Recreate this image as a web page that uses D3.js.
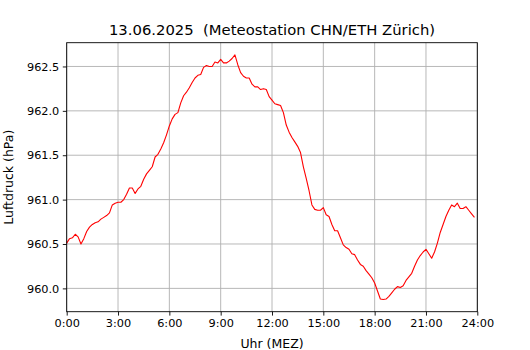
<!DOCTYPE html>
<html lang="de">
<head>
	<meta charset="utf-8">
	<script src="https://d3js.org/d3.v7.min.js"></script>
	<style type="text/css">
		body {
			margin: 0;
			background: #fff;
		}
		svg text {
			font-family: "DejaVu Sans", sans-serif;
			fill: #000;
			white-space: pre;
		}
	</style>
</head>
<body>
	<script type="text/javascript">
	var width = 530;
	var height = 350;

	var title = "13.06.2025  (Meteostation CHN/ETH Zürich)";
	var xLabel = "Uhr (MEZ)";
	var yLabel = "Luftdruck (hPa)";

	// Messungen alle 10 Minuten, 0:00 bis 23:50
	var stepMinutes = 10;
	var pressure = [
		960.51, 960.56, 960.57, 960.61, 960.58, 960.50, 960.56, 960.64, 960.69, 960.72,
		960.74, 960.75, 960.78, 960.80, 960.82, 960.85, 960.94, 960.96, 960.97, 960.97,
		961.00, 961.06, 961.13, 961.13, 961.07, 961.12, 961.15, 961.23, 961.29, 961.33,
		961.37, 961.48, 961.51, 961.57, 961.64, 961.73, 961.83, 961.91, 961.96, 961.98,
		962.09, 962.17, 962.21, 962.26, 962.32, 962.37, 962.40, 962.41, 962.49, 962.51,
		962.50, 962.50, 962.55, 962.54, 962.58, 962.54, 962.54, 962.56, 962.59, 962.63,
		962.52, 962.43, 962.39, 962.37, 962.37, 962.30, 962.27, 962.27, 962.24, 962.25,
		962.24, 962.16, 962.12, 962.08, 962.07, 962.06, 961.98, 961.84, 961.76, 961.70,
		961.65, 961.60, 961.53, 961.37, 961.24, 961.10, 960.94, 960.89, 960.88, 960.88,
		960.91, 960.83, 960.81, 960.72, 960.65, 960.65, 960.57, 960.49, 960.46, 960.44,
		960.39, 960.38, 960.32, 960.27, 960.25, 960.20, 960.16, 960.12, 960.06, 959.97,
		959.88, 959.875, 959.88, 959.91, 959.95, 959.99, 960.02, 960.01, 960.03, 960.09,
		960.13, 960.17, 960.25, 960.32, 960.37, 960.41, 960.44, 960.39, 960.34, 960.41,
		960.51, 960.63, 960.72, 960.81, 960.88, 960.94, 960.92, 960.96, 960.90, 960.90,
		960.92, 960.88, 960.84, 960.80
	];

	var xTicks = [0, 3, 6, 9, 12, 15, 18, 21, 24];
	var yTicks = [960.0, 960.5, 961.0, 961.5, 962.0, 962.5];

	var margin = {top: 42.7, right: 52.7, bottom: 38.3, left: 66.7};
	var plotW = width - margin.left - margin.right;
	var plotH = height - margin.top - margin.bottom;

	var svg = d3.select("body")
				.append("svg")
				.attr("width", width)
				.attr("height", height);

	var g = svg.append("g")
			   .attr("transform", "translate(" + margin.left + "," + margin.top + ")");

	var x = d3.scaleLinear()
			  .domain([0, 24])
			  .range([0, plotW]);

	// y-Bereich wie matplotlib: 5% Rand oben und unten
	var ext = d3.extent(pressure);
	var pad = (ext[1] - ext[0]) * 0.05;
	var y = d3.scaleLinear()
			  .domain([ext[0] - pad, ext[1] + pad])
			  .range([plotH, 0]);

	// Gitter
	g.append("g")
	 .selectAll("line")
	 .data(xTicks)
	 .enter()
	 .append("line")
	 .attr("x1", function(d) { return x(d); })
	 .attr("x2", function(d) { return x(d); })
	 .attr("y1", 0)
	 .attr("y2", plotH)
	 .style("stroke", "#b0b0b0")
	 .style("stroke-width", 0.9);

	g.append("g")
	 .selectAll("line")
	 .data(yTicks)
	 .enter()
	 .append("line")
	 .attr("x1", 0)
	 .attr("x2", plotW)
	 .attr("y1", function(d) { return y(d); })
	 .attr("y2", function(d) { return y(d); })
	 .style("stroke", "#b0b0b0")
	 .style("stroke-width", 0.9);

	// Kurve
	var line = d3.line()
				 .x(function(d, i) { return x(i * stepMinutes / 60); })
				 .y(function(d) { return y(d); });

	g.append("path")
	 .datum(pressure)
	 .attr("d", line)
	 .style("fill", "none")
	 .style("stroke", "#ff0000")
	 .style("stroke-width", 1.1)
	 .style("stroke-linejoin", "round");

	// Achsen
	var xAxis = d3.axisBottom(x)
				  .tickValues(xTicks)
				  .tickSize(3.9)
				  .tickPadding(3.5)
				  .tickFormat(function(d) { return d + ":00"; });

	var yAxis = d3.axisLeft(y)
				  .tickValues(yTicks)
				  .tickSize(3.9)
				  .tickPadding(3.5)
				  .tickFormat(d3.format(".1f"));

	var gx = g.append("g")
			  .attr("transform", "translate(0," + plotH + ")")
			  .call(xAxis);
	var gy = g.append("g").call(yAxis);

	[gx, gy].forEach(function(a) {
		a.select(".domain").remove();
		a.selectAll(".tick line").style("stroke", "#000").style("stroke-width", 0.9);
		a.selectAll(".tick text")
		 .style("font-family", "'DejaVu Sans', sans-serif")
		 .style("font-size", "11.3px");
	});

	// Rahmen
	g.append("rect")
	 .attr("width", plotW)
	 .attr("height", plotH)
	 .style("fill", "none")
	 .style("stroke", "#000")
	 .style("stroke-width", 0.9);

	// Beschriftung
	svg.append("text")
	   .attr("x", margin.left + plotW / 2)
	   .attr("y", 35)
	   .attr("text-anchor", "middle")
	   .style("font-size", "14.8px")
	   .text(title);

	svg.append("text")
	   .attr("x", margin.left + plotW / 2)
	   .attr("y", 348)
	   .attr("text-anchor", "middle")
	   .style("font-size", "12.5px")
	   .text(xLabel);

	svg.append("text")
	   .attr("transform", "translate(13," + (margin.top + plotH / 2) + ") rotate(-90)")
	   .attr("text-anchor", "middle")
	   .style("font-size", "12.5px")
	   .text(yLabel);
	</script>
</body>
</html>
